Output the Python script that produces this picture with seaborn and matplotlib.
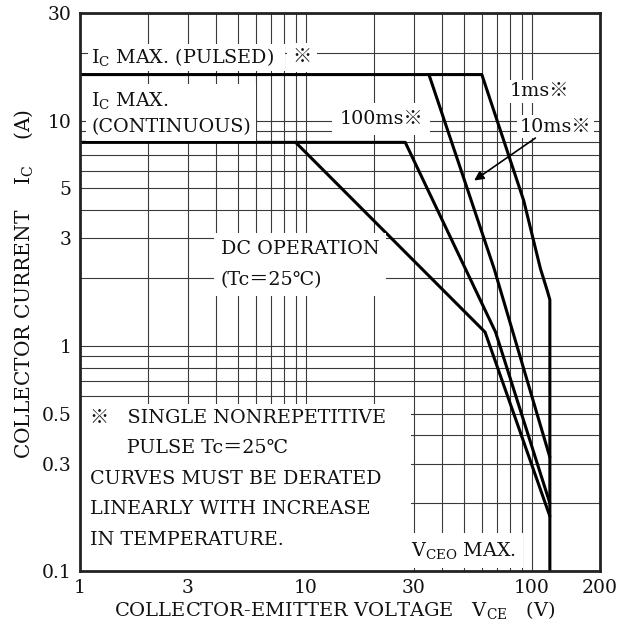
import pandas as pd
import matplotlib
matplotlib.use('Agg')
from matplotlib import pyplot as plt
from matplotlib.patches import Rectangle
from matplotlib.ticker import FixedLocator, LogLocator, NullFormatter
import seaborn as sns

# safe operating area curves (VCE in V, IC in A)
dc_v = [9, 62, 120]
dc_i = [8, 1.15, 0.175]
ms100_v = [1, 27.5, 69, 120]
ms100_i = [8, 8, 1.15, 0.2]
ms10_v = [35, 68, 120]
ms10_i = [16, 2.2, 0.32]
ms1_v = [1, 60, 92, 109, 117, 120, 120]
ms1_i = [16, 16, 4.4, 2.2, 1.75, 1.6, 0.1]

x_ticks = [1, 3, 10, 30, 100, 200]
x_labels = ['1', '3', '10', '30', '100', '200']
y_ticks = [0.1, 0.3, 0.5, 1, 3, 5, 10, 30]
y_labels = ['0.1', '0.3', '0.5', '1', '3', '5', '10', '30']


def main():
    sns.set_theme(style='white')
    plt.rcParams['font.family'] = ['DejaVu Serif', 'Noto Sans CJK JP']
    plt.rcParams['mathtext.fontset'] = 'dejavuserif'

    rows = []
    for name, vs, cs in [('DC', dc_v, dc_i), ('100ms', ms100_v, ms100_i),
                         ('10ms', ms10_v, ms10_i), ('1ms', ms1_v, ms1_i)]:
        for v, c in zip(vs, cs):
            rows.append({'curve': name, 'V': v, 'I': c})
    data = pd.DataFrame(rows)

    fig = plt.figure(figsize=(6.25, 6.29), dpi=100)
    ax = fig.add_axes([0.128, 0.0922, 0.832, 0.887])
    sns.lineplot(data=data, x='V', y='I', hue='curve', sort=False,
                 estimator=None, legend=False, ax=ax, lw=2.2,
                 palette=['black'] * 4, zorder=2)
    ax.set_xscale('log')
    ax.set_yscale('log')
    ax.set_xlim(1, 200)
    ax.set_ylim(0.1, 30)

    ax.xaxis.set_major_locator(FixedLocator(x_ticks))
    ax.set_xticklabels(x_labels)
    ax.yaxis.set_major_locator(FixedLocator(y_ticks))
    ax.set_yticklabels(y_labels)
    for a in (ax.xaxis, ax.yaxis):
        a.set_minor_locator(LogLocator(base=10, subs=range(1, 10)))
        a.set_minor_formatter(NullFormatter())
    ax.tick_params(which='both', length=0, labelsize=13.5, pad=6,
                   labelcolor='#111111')
    ax.set_axisbelow(True)
    ax.grid(which='both', color='#3a3a3a', lw=0.8)
    for s in ax.spines.values():
        s.set_linewidth(2)
        s.set_color('#222222')

    ax.set_xlabel('COLLECTOR-EMITTER VOLTAGE   $\\mathregular{V_{CE}}$   (V)',
                  fontsize=14, color='#111111', labelpad=1)
    ax.xaxis.label.set_x(0.49)
    ax.set_ylabel('COLLECTOR CURRENT    $\\mathregular{I_C}$    (A)',
                  fontsize=14.5, color='#111111', labelpad=5)
    ax.yaxis.label.set_y(0.515)

    kw = dict(fontsize=13.8, color='#111111', zorder=3)

    def box(p):
        return dict(facecolor='white', edgecolor='none', pad=p)

    ax.text(1.12, 19.1, '$\\mathregular{I_C}$ MAX. (PULSED)  ',
            ha='left', va='center', bbox=box(2), **kw)
    ax.text(9.6, 19.1, '※', ha='center', va='center', bbox=box(4), **kw)
    ax.text(1.12, 10.8, '$\\mathregular{I_C}$ MAX.\n(CONTINUOUS)',
            ha='left', va='center', linespacing=1.45, bbox=box(4), **kw)
    ax.text(21.5, 10.2, '100ms※', ha='center', va='center', bbox=box(5),
            **kw)
    ax.text(80, 13.5, '1ms※', ha='left', va='center', bbox=box(2), **kw)
    ax.text(88, 9.4, '10ms※', ha='left', va='center', bbox=box(2), **kw)
    ax.annotate('', xy=(54.2, 5.33), xytext=(106, 8.5),
                arrowprops=dict(arrowstyle='-|>', color='black', lw=1.2,
                                mutation_scale=14), zorder=3)
    ax.text(4.2, 2.3, 'DC OPERATION\n(Tc＝25℃)', ha='left', va='center',
            linespacing=1.9, bbox=box(5), **kw)
    ax.text(29.3, 0.123, '$\\mathregular{V_{CEO}}$ MAX.', ha='left',
            va='center', bbox=box(5), **kw)

    ax.add_patch(Rectangle((0, 0), 0.637, 0.3, transform=ax.transAxes,
                           facecolor='white', edgecolor='none', zorder=1))
    ax.text(0.02, 0.291,
            '※   SINGLE NONREPETITIVE\n'
            '      PULSE Tc＝25℃\n'
            'CURVES MUST BE DERATED\n'
            'LINEARLY WITH INCREASE\n'
            'IN TEMPERATURE.',
            transform=ax.transAxes, ha='left', va='top', linespacing=1.9,
            **kw)

    plt.savefig('out.png', dpi=100)


if __name__ == '__main__':
    main()
